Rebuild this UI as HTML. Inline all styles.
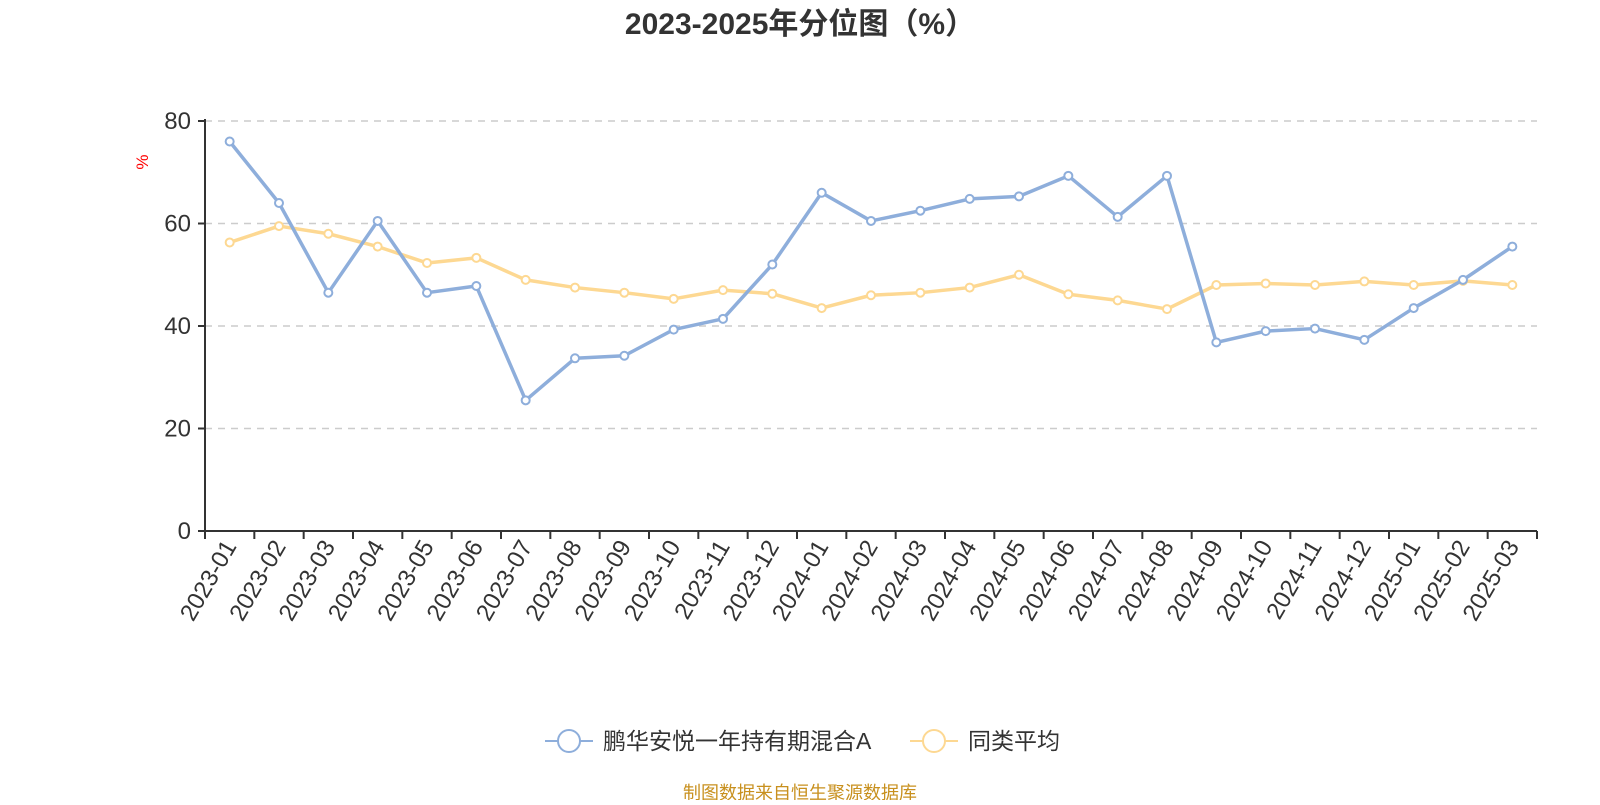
<!DOCTYPE html>
<html><head><meta charset="utf-8"><style>
body{margin:0;background:#fff;width:1600px;height:800px;overflow:hidden}
svg{font-family:"Liberation Sans","Noto Sans CJK SC",sans-serif}
</style></head><body>
<svg width="1600" height="800">
<text x="800" y="34" text-anchor="middle" font-size="30" font-weight="bold" fill="#333">2023-2025年分位图（%）</text>
<text transform="translate(148,162) rotate(-90)" text-anchor="middle" font-size="17" fill="red">%</text>
<g id="grid"></g><g id="axes"></g><g id="series"></g>
<g>
<g><line x1="545" y1="741" x2="593" y2="741" stroke="#8eaedb" stroke-width="2"/><circle cx="569" cy="741" r="11" fill="#fff" stroke="#8eaedb" stroke-width="2"/><text x="603" y="749" font-size="23" fill="#333">鹏华安悦一年持有期混合A</text></g>
<g><line x1="910" y1="741" x2="958" y2="741" stroke="#fdd892" stroke-width="2"/><circle cx="934" cy="741" r="11" fill="#fff" stroke="#fdd892" stroke-width="2"/><text x="968" y="749" font-size="23" fill="#333">同类平均</text></g>
</g>
<text x="800" y="799" text-anchor="middle" font-size="18" fill="#c8901e">制图数据来自恒生聚源数据库</text>
</svg>
<script>
const categories=["2023-01","2023-02","2023-03","2023-04","2023-05","2023-06","2023-07","2023-08","2023-09","2023-10","2023-11","2023-12","2024-01","2024-02","2024-03","2024-04","2024-05","2024-06","2024-07","2024-08","2024-09","2024-10","2024-11","2024-12","2025-01","2025-02","2025-03"];
const fundValues=[76,64,46.5,60.5,46.5,47.8,25.5,33.7,34.2,39.3,41.4,52,66,60.5,62.5,64.8,65.3,69.3,61.3,69.3,36.8,39,39.5,37.3,43.5,49,55.5];
const avgValues=[56.3,59.5,58,55.5,52.3,53.3,49,47.5,46.5,45.3,47,46.3,43.5,46,46.5,47.5,50,46.2,45,43.3,48,48.3,48,48.7,48,48.8,48];
const yTicks=[0,20,40,60,80];
const NS="http://www.w3.org/2000/svg";
const X0=205,X1=1537,Y0=531,Y1=121,YMAX=80;
const bw=(X1-X0)/categories.length;
const xPos=i=>X0+bw*(i+0.5);
const yPos=v=>Y0-(v/YMAX)*(Y0-Y1);
function mk(t,a,p){const e=document.createElementNS(NS,t);for(const k in a)e.setAttribute(k,a[k]);p.appendChild(e);return e;}
const grid=document.getElementById('grid'),axes=document.getElementById('axes'),series=document.getElementById('series');
yTicks.forEach(v=>{
 if(v>0){const g=mk('line',{x1:X0,x2:X1,y1:yPos(v),y2:yPos(v),stroke:'#ccc','stroke-width':1.5,'stroke-dasharray':'7,6'},grid);
 
 }
 const t=mk('line',{x1:X0-7,x2:X0,y1:yPos(v),y2:yPos(v),stroke:'#333','stroke-width':2},axes);
 
 
 const l=mk('text',{x:X0-14,y:yPos(v)+8,'text-anchor':'end','font-size':24,fill:'#333'},axes);
 l.textContent=v;
 
 
});
const ya=mk('line',{x1:X0,x2:X0,y1:Y1-2,y2:Y0,stroke:'#333','stroke-width':2},axes);


const xa=mk('line',{x1:X0,x2:X1,y1:Y0,y2:Y0,stroke:'#333','stroke-width':2},axes);


for(let i=0;i<=categories.length;i++){
 const t=mk('line',{x1:X0+bw*i,x2:X0+bw*i,y1:Y0,y2:Y0+8,stroke:'#333','stroke-width':2},axes);
 
 
}
categories.forEach((c,i)=>{
 const x=xPos(i)+2,y=Y0+12;
 const l=mk('text',{x:x,y:y,'text-anchor':'end','font-size':24,fill:'#333',transform:`rotate(-60 ${x} ${y})`,'dominant-baseline':'middle'},axes);
 l.textContent=c;
 
 
});
function drawSeries(vals,color,name){
 const p=mk('polyline',{points:vals.map((v,i)=>xPos(i)+','+yPos(v)).join(' '),fill:'none',stroke:color,'stroke-width':3.5,'stroke-linejoin':'round'},series);
 
 
 vals.forEach((v,i)=>{
  const c=mk('circle',{cx:xPos(i),cy:yPos(v),r:4,fill:'#fff',stroke:color,'stroke-width':2},series);
  
  
 });
}
drawSeries(avgValues,'#fdd892','average');
drawSeries(fundValues,'#8eaedb','fund');
</script>
</body></html>
